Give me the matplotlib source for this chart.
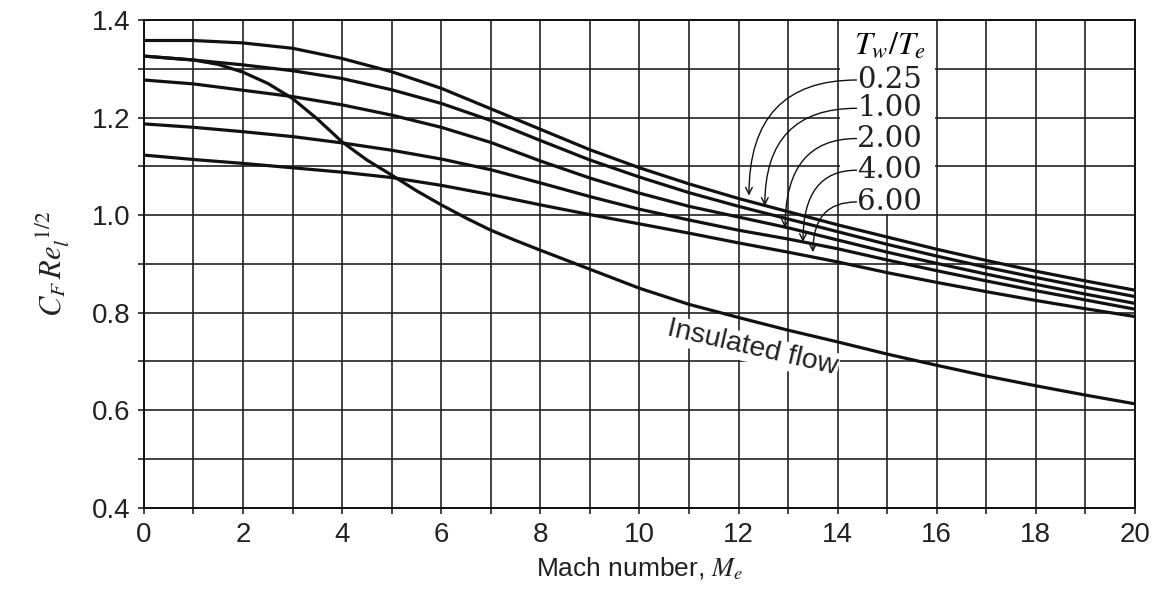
import numpy as np
import matplotlib.pyplot as plt
from matplotlib.patches import Rectangle

plt.rcParams['mathtext.fontset'] = 'stix'

# Numero de Mach
mach = [0, 1, 2, 3, 4, 5, 6, 7, 8, 9, 10, 11, 12, 13, 14, 15, 16, 17, 18, 19, 20]

# C_F Re^1/2 para cada Tw/Te
tw_labels = ['0.25', '1.00', '2.00', '4.00', '6.00']
cf_025 = [1.358, 1.358, 1.353, 1.342, 1.321, 1.294, 1.260, 1.218, 1.176, 1.134, 1.097,
          1.064, 1.034, 1.007, 0.980, 0.955, 0.930, 0.907, 0.885, 0.865, 0.846]
cf_100 = [1.326, 1.318, 1.308, 1.296, 1.280, 1.257, 1.229, 1.194, 1.153, 1.113, 1.078,
          1.046, 1.018, 0.992, 0.966, 0.940, 0.916, 0.893, 0.872, 0.852, 0.833]
cf_200 = [1.277, 1.269, 1.256, 1.243, 1.226, 1.205, 1.180, 1.149, 1.111, 1.076, 1.045,
          1.018, 0.996, 0.974, 0.949, 0.924, 0.901, 0.879, 0.858, 0.838, 0.819]
cf_400 = [1.187, 1.180, 1.171, 1.161, 1.148, 1.133, 1.115, 1.093, 1.066, 1.038, 1.012,
          0.990, 0.969, 0.951, 0.931, 0.908, 0.886, 0.865, 0.845, 0.826, 0.807]
cf_600 = [1.123, 1.114, 1.106, 1.097, 1.088, 1.077, 1.061, 1.042, 1.021, 1.001, 0.982,
          0.963, 0.943, 0.924, 0.904, 0.882, 0.862, 0.843, 0.825, 0.808, 0.792]

# Flujo aislado
mach_ins = [0, 1, 1.5, 2, 2.5, 3, 3.5, 4, 4.5, 5, 5.5, 6, 6.5, 7, 7.5, 8, 9, 10, 11, 12,
            13, 14, 15, 16, 17, 18, 19, 20]
cf_ins = [1.326, 1.318, 1.309, 1.293, 1.270, 1.239, 1.197, 1.150, 1.113, 1.082, 1.050,
          1.021, 0.994, 0.969, 0.948, 0.928, 0.889, 0.850, 0.817, 0.790, 0.764, 0.740,
          0.715, 0.692, 0.670, 0.650, 0.631, 0.613]

fig = plt.figure(figsize=(11.76, 6.14), dpi=100)
ax = fig.add_axes([0.1224, 0.1731, 0.8427, 0.7943])

ink = '#111111'
for cf in [cf_025, cf_100, cf_200, cf_400, cf_600]:
    ax.plot(mach, cf, color=ink, lw=2.3, zorder=3)
ax.plot(mach_ins, cf_ins, color=ink, lw=2.3, zorder=3)

ax.set_xlim(0, 20)
ax.set_ylim(0.4, 1.4)
ax.set_xticks(np.arange(0, 21, 2))
ax.set_xticks(np.arange(0, 21, 1), minor=True)
ax.set_yticks(np.arange(0.4, 1.41, 0.2))
ax.set_yticks(np.arange(0.4, 1.41, 0.1), minor=True)
ax.set_yticklabels([f'{v:.1f}' for v in np.arange(0.4, 1.41, 0.2)])
ax.grid(True, which='both', color='#222222', lw=1.2)
ax.set_axisbelow(True)
for s in ax.spines.values():
    s.set_linewidth(1.4)
    s.set_color('#111111')
ax.tick_params(which='both', direction='out', length=4, width=1.2,
               labelsize=20, colors='#222222', pad=6)
for lab in ax.get_xticklabels() + ax.get_yticklabels():
    lab.set_family('Liberation Sans')

ax.set_xlabel('Mach number, $M_e$', fontsize=19, family='Liberation Sans',
              color='#222222', labelpad=6)
ax.set_ylabel(r'$C_F\,Re_l^{\ 1/2}$', fontsize=22, color='#222222', labelpad=14)

# caja de la leyenda
ax.add_patch(Rectangle((14.04, 1.003), 1.92, 0.394, facecolor='white',
                       edgecolor='none', zorder=1))
ax.text(15.05, 1.349, r'$T_w/T_e$', fontsize=23, ha='center', va='center', zorder=4)
label_y = [1.277, 1.219, 1.157, 1.092, 1.027]
tips = [(12.21, 1.040), (12.53, 1.019), (12.94, 0.974), (13.3, 0.945), (13.5, 0.924)]
for lab, ly, tip in zip(tw_labels, label_y, tips):
    ax.text(14.4, ly, lab, fontsize=21, family='DejaVu Serif', ha='left', va='center',
            color='#222222', zorder=4)
    ax.annotate('', xy=tip, xytext=(14.38, ly),
                arrowprops=dict(arrowstyle='->', lw=1.0, color=ink, shrinkA=0, shrinkB=0,
                                mutation_scale=12,
                                connectionstyle='angle3,angleA=0,angleB=90'),
                zorder=4)

ax.text(12.27, 0.727, 'Insulated flow', fontsize=20.5, family='Liberation Sans',
        rotation=-13, ha='center', va='center', color='#222222', zorder=2,
        bbox=dict(facecolor='white', edgecolor='none', pad=1))

fig.savefig('out.png', dpi=100)
